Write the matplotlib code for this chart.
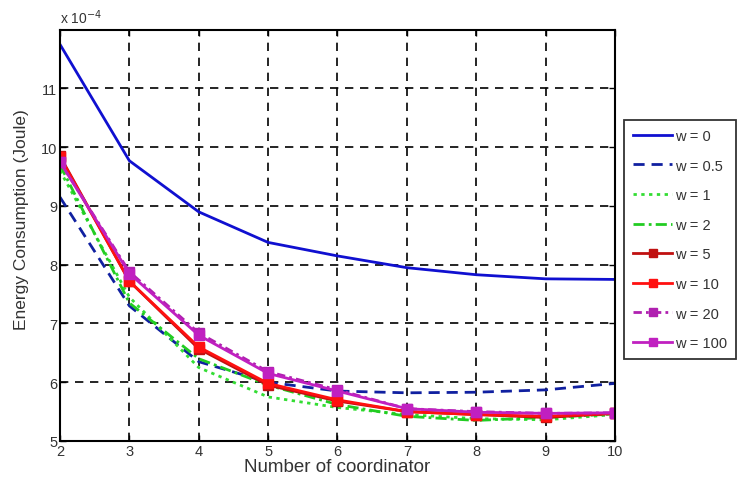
import matplotlib
matplotlib.use("Agg")
import matplotlib.pyplot as plt

plt.rcParams['font.family'] = ['Liberation Sans', 'DejaVu Sans']

x = [2, 3, 4, 5, 6, 7, 8, 9, 10]
w0 = [11.75, 9.77, 8.90, 8.38, 8.15, 7.95, 7.83, 7.76, 7.75]
w05 = [9.15, 7.30, 6.35, 6.00, 5.85, 5.82, 5.83, 5.87, 5.98]
w1 = [9.60, 7.45, 6.25, 5.75, 5.57, 5.45, 5.38, 5.36, 5.45]
w2 = [9.70, 7.35, 6.40, 5.95, 5.62, 5.42, 5.35, 5.40, 5.46]
w5 = [9.85, 7.72, 6.57, 5.95, 5.68, 5.50, 5.45, 5.40, 5.47]
w10 = [9.83, 7.72, 6.60, 5.98, 5.70, 5.50, 5.45, 5.42, 5.47]
w20 = [9.75, 7.88, 6.84, 6.18, 5.87, 5.55, 5.50, 5.47, 5.48]
w100 = [9.75, 7.85, 6.80, 6.15, 5.85, 5.55, 5.49, 5.47, 5.48]
labels = ['w = 0', 'w = 0.5', 'w = 1', 'w = 2', 'w = 5', 'w = 10', 'w = 20', 'w = 100']
xticks = [2, 3, 4, 5, 6, 7, 8, 9, 10]
yticks = [5, 6, 7, 8, 9, 10, 11]

fig = plt.figure(figsize=(7.38, 4.81), dpi=100)
ax = fig.add_axes([0.0813, 0.0811, 0.752, 0.855])

tc = '#333333'
ax.plot(x, w0, color='#1010d0', lw=2.0, ls='-', label=labels[0])
ax.plot(x, w05, color='#1020a0', lw=2.0, ls=(0, (4, 2.5)), label=labels[1])
ax.plot(x, w1, color='#33dd33', lw=2.0, ls=(0, (1.2, 1.6)), label=labels[2])
ax.plot(x, w2, color='#22cc22', lw=2.0, ls=(0, (4, 1.5, 1, 1.5)), label=labels[3])
ax.plot(x, w5, color='#c01010', lw=2.0, ls='-', marker='s', ms=7, label=labels[4])
ax.plot(x, w10, color='#ff1010', lw=2.0, ls='-', marker='s', ms=7, label=labels[5])
ax.plot(x, w20, color='#b020b0', lw=2.0, ls=(0, (3, 1.5, 1, 1.5)), marker='s', ms=7, label=labels[6])
ax.plot(x, w100, color='#c020c0', lw=2.0, ls='-', marker='s', ms=7, label=labels[7])

ax.set_xlim(2, 10)
ax.set_ylim(5, 12)
ax.set_xticks(xticks)
ax.set_yticks(yticks)
ax.set_xticklabels([str(v) for v in xticks])
ax.set_yticklabels([str(v) for v in yticks])
ax.grid(True, color='black', ls=(0, (5, 4)), lw=1.2)
ax.tick_params(direction='in', length=4, width=1, labelsize=10.5, colors='black', labelcolor=tc, pad=2, top=True, right=True)
for s in ax.spines.values():
    s.set_linewidth(1.5)

ax.set_xlabel('Number of coordinator', fontsize=13.5, color=tc, labelpad=0)
ax.set_ylabel('Energy Consumption (Joule)', fontsize=12.5, color=tc, labelpad=4)
ax.yaxis.set_label_coords(-0.055, 0.54)
ax.text(0.0, 1.01, r'x 10$^{-4}$', transform=ax.transAxes, fontsize=10, color=tc, ha='left', va='bottom')

leg = fig.legend(loc='upper left', bbox_to_anchor=(0.846, 0.748), fontsize=10.5, frameon=True, fancybox=False,
                 edgecolor='black', handlelength=2.7, labelspacing=1.07, borderpad=0.6, handletextpad=0.15,
                 borderaxespad=0.0, markerscale=0.85)
leg.get_frame().set_linewidth(1.3)
for t in leg.get_texts():
    t.set_color(tc)

fig.savefig('out.png', dpi=100)
